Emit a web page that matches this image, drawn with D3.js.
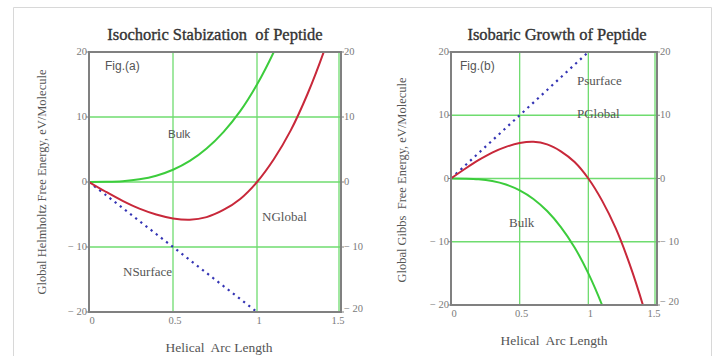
<!DOCTYPE html>
<html>
<head>
<meta charset="utf-8">
<script src="https://cdn.jsdelivr.net/npm/d3@7"></script>
<style>
  html, body { margin: 0; padding: 0; background: #fff; }
  svg { display: block; }
  text { white-space: pre; }
</style>
</head>
<body>
<svg id="chart" width="717" height="356"></svg>
<script>
// x positions sampled along the helical arc length
const arcX = [0, 0.1, 0.2, 0.3, 0.4, 0.5, 0.6, 0.7, 0.8, 0.9, 1.0, 1.1, 1.2, 1.3, 1.4, 1.5];

// Fig (a): isochoric
const nBulk    = [0, 0.02, 0.12, 0.41, 0.96, 1.88, 3.24, 5.15, 7.68, 10.9, 15.0, 20.0, 25.9, 33.0, 41.2, 50.6];
const nGlobal  = [0, -1.5, -2.9, -4.1, -5.0, -5.6, -5.8, -5.4, -4.3, -2.6, 0, 3.5, 7.9, 13.5, 20.2, 28.1];
const nSurface = [0, -2, -4, -6, -8, -10, -12, -14, -16, -18, -20, -22, -24, -26, -28, -30];

// Fig (b): isobaric
const pBulk    = [0, -0.02, -0.12, -0.41, -0.96, -1.88, -3.24, -5.15, -7.68, -10.9, -15.0, -20.0, -25.9, -33.0, -41.2, -50.6];
const pGlobal  = [0, 1.5, 2.9, 4.1, 5.0, 5.6, 5.8, 5.4, 4.3, 2.6, 0, -3.5, -7.9, -13.5, -20.2, -28.1];
const pSurface = [0, 2, 4, 6, 8, 10, 12, 14, 16, 18, 20, 22, 24, 26, 28, 30];

const xTicks = [0, 0.5, 1, 1.5];
const xTickLabels = ["0", "0.5", "1", "1.5"];
const yTicks = [20, 10, 0, -10, -20];
const yTickLabels = ["20", "10", "0", "\u2212 10", "\u2212 20"];

const svg = d3.select("#chart");
const serif = "'Liberation Serif', 'DejaVu Serif', serif";
const sans = "'Liberation Sans', Arial, sans-serif";

// outer frame
svg.append("path")
  .attr("d", "M13.5,360 V7.5 H711.5 V360")
  .attr("fill", "none")
  .attr("stroke", "#d8d8d8")
  .attr("stroke-width", 1);

function drawPanel(p) {
  const x = d3.scaleLinear().domain([0, 1.5]).range([p.left, p.right]);
  const y = d3.scaleLinear().domain([-20, 20]).range([p.bottom, p.top]);
  const g = svg.append("g");

  g.append("clipPath").attr("id", p.id)
    .append("rect")
    .attr("x", p.left).attr("y", p.top)
    .attr("width", p.right - p.left).attr("height", p.bottom - p.top);

  // green grid
  g.selectAll(".gx").data([0.5, 1, 1.5]).enter().append("line")
    .attr("x1", d => x(d) - (d === 1.5 ? 2 : 0)).attr("x2", d => x(d) - (d === 1.5 ? 2 : 0))
    .attr("y1", p.top).attr("y2", p.bottom)
    .attr("stroke", "#6fdc6f").attr("stroke-width", 1.3);
  g.selectAll(".gy").data([10, 0, -10]).enter().append("line")
    .attr("x1", p.left).attr("x2", p.right)
    .attr("y1", d => y(d)).attr("y2", d => y(d))
    .attr("stroke", "#6fdc6f").attr("stroke-width", 1.3);

  const line = d3.line()
    .x((d, i) => x(arcX[i]))
    .y(d => y(d))
    .curve(d3.curveCatmullRom);

  const curves = g.append("g").attr("clip-path", `url(#${p.id})`);
  curves.append("path").datum(p.surface)
    .attr("d", line).attr("fill", "none")
    .attr("stroke", "#3434b4").attr("stroke-width", 2.2)
    .attr("stroke-dasharray", "2.2,4.3");
  curves.append("path").datum(p.bulk)
    .attr("d", line).attr("fill", "none")
    .attr("stroke", "#3ccc3c").attr("stroke-width", 2);
  curves.append("path").datum(p.global)
    .attr("d", line).attr("fill", "none")
    .attr("stroke", "#c8283a").attr("stroke-width", 2);

  // plot border
  g.append("rect")
    .attr("x", p.left).attr("y", p.top)
    .attr("width", p.right - p.left).attr("height", p.bottom - p.top)
    .attr("fill", "none").attr("stroke", "#808080").attr("stroke-width", 2);

  // tick marks
  yTicks.forEach(v => {
    g.append("line").attr("x1", p.left - 3).attr("x2", p.left)
      .attr("y1", y(v)).attr("y2", y(v)).attr("stroke", "#808080");
    g.append("line").attr("x1", p.right).attr("x2", p.right + 3)
      .attr("y1", y(v)).attr("y2", y(v)).attr("stroke", "#808080");
  });

  // tick labels
  g.selectAll(".yl").data(yTicks).enter().append("text")
    .attr("x", p.left - 2).attr("y", d => y(d) + 3)
    .attr("text-anchor", "end")
    .style("font-family", serif).style("font-size", "10.5px").style("fill", "#7a7a7a")
    .text((d, i) => yTickLabels[i]);
  g.selectAll(".yr").data(yTicks).enter().append("text")
    .attr("x", p.right + 3).attr("y", d => y(d) + 3 - (d === -20 ? 3 : 0))
    .attr("text-anchor", "start")
    .style("font-family", serif).style("font-size", "10.5px").style("fill", "#7a7a7a")
    .text((d, i) => yTickLabels[i]);
  g.selectAll(".xl").data(xTicks).enter().append("text")
    .attr("x", d => x(d) + (d === 0 ? 3 : d === 1.5 ? -3 : 2)).attr("y", p.bottom + 12)
    .attr("text-anchor", "middle")
    .style("font-family", serif).style("font-size", "10.5px").style("fill", "#7a7a7a")
    .text((d, i) => xTickLabels[i]);

  // titles
  g.append("text")
    .attr("x", p.titleX).attr("y", 40)
    .attr("text-anchor", "middle")
    .style("font-family", serif).style("font-size", "16.5px")
    .style("fill", "#333").style("stroke", "#333").style("stroke-width", 0.35)
    .text(p.title);
  g.append("text")
    .attr("x", (p.left + p.right) / 2 + p.xLabelDx).attr("y", p.xLabelY)
    .attr("text-anchor", "middle")
    .style("font-family", serif).style("font-size", "13.5px").style("fill", "#555")
    .text("Helical  Arc Length");
  g.append("text")
    .attr("transform", `translate(${p.yLabelX},${p.yLabelY}) rotate(-90)`)
    .attr("text-anchor", "middle")
    .style("font-family", serif).style("font-size", "12.5px").style("fill", "#555")
    .text(p.yLabel);

  // annotations
  p.notes.forEach(n => {
    g.append("text")
      .attr("x", n.x).attr("y", n.y)
      .style("font-family", n.sans ? sans : serif)
      .style("font-size", n.size + "px")
      .style("fill", "#555")
      .text(n.t);
  });
}

drawPanel({
  id: "clipA", left: 89, right: 341, top: 52, bottom: 312,
  bulk: nBulk, global: nGlobal, surface: nSurface,
  title: "Isochoric Stabization  of Peptide", titleX: 215,
  xLabelY: 352, xLabelDx: 4,
  yLabel: "Global Helmholtz Free Energy, eV/Molecule", yLabelX: 46, yLabelY: 182,
  notes: [
    { t: "Fig.(a)", x: 105, y: 70, sans: true, size: 12 },
    { t: "Bulk", x: 168, y: 138, sans: true, size: 11.5 },
    { t: "NGlobal", x: 262, y: 221, size: 13 },
    { t: "NSurface", x: 123, y: 276, size: 13 }
  ]
});

drawPanel({
  id: "clipB", left: 451, right: 657, top: 52, bottom: 305,
  bulk: pBulk, global: pGlobal, surface: pSurface,
  title: "Isobaric Growth of Peptide", titleX: 557,
  xLabelY: 345, xLabelDx: 0,
  yLabel: "Global Gibbs  Free Energy, eV/Molecule", yLabelX: 406, yLabelY: 180,
  notes: [
    { t: "Fig.(b)", x: 460, y: 70, sans: true, size: 12 },
    { t: "Psurface", x: 577, y: 85, size: 13 },
    { t: "PGlobal", x: 577, y: 118, size: 13 },
    { t: "Bulk", x: 509, y: 227, size: 13 }
  ]
});
</script>
</body>
</html>
